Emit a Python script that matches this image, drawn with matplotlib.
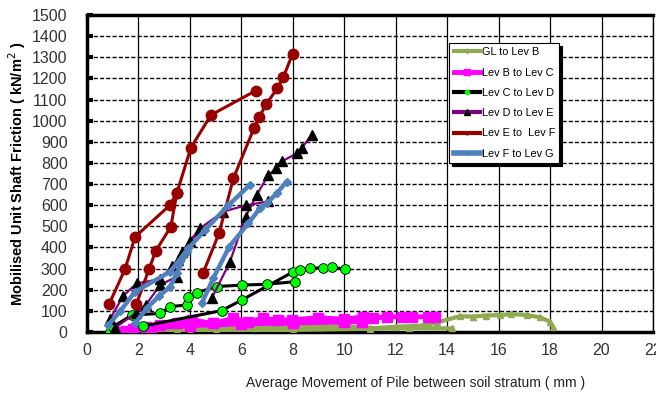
import matplotlib.pyplot as plt
import numpy as np
from matplotlib.lines import Line2D

plt.rcParams['font.family'] = ['Liberation Sans', 'DejaVu Sans']

nan = np.nan
# GL to Lev B (two branches separated by nan)
gl_x = [1.5, 2.5, 3.5, 5.0, 6.5, 8.0, 9.0, 10.0, 11.0, 12.0, 13.0, 13.6, 14.5, 15.0, 15.5, 16.05, 16.5, 17.1, 17.6, 18.0, 18.1,
        nan, 1.5, 4.0, 8.0, 11.0, 12.5, 14.2]
gl_y = [0, 5, 10, 15, 20, 25, 25, 28, 17, 25, 30, 45, 75, 73, 78, 80, 85, 80, 70, 49, 25,
        nan, 0, 5, 10, 15, 20, 17]
# Lev B to Lev C
bc_x = [1.2, 1.8, 2.3, 2.84, 3.48, 4.07, 4.91, 5.69, 6.27, 6.85, 7.44, 7.95, 8.99, 10.0, 10.74, 11.13, 11.65, 12.23, 12.62, 13.27, 13.53,
        nan, 1.5, 2.5, 4.0, 6.0, 8.0, 10.0, 10.7]
bc_y = [0, 15, 25, 35, 41, 57, 41, 65, 49, 65, 57, 57, 68, 60, 72, 65, 72, 72, 72, 72, 72,
        nan, 5, 20, 30, 38, 43, 47, 49]
# Lev C to Lev D
cd_x = [0.9, 1.02, 1.74, 2.84, 3.23, 3.87, 3.91, 4.26, 5.04, 6.01, 6.98, 8.08,
        nan, 2.19, 5.23, 6.01, 8.02, 8.28, 8.67, 9.18, 9.51, 10.03]
cd_y = [0, 25, 80, 88, 120, 128, 164, 186, 215, 222, 226, 238,
        nan, 28, 101, 151, 285, 293, 301, 304, 306, 298]
# Lev D to Lev E
de_x = [0.89, 1.4, 1.93, 2.84, 3.3, 3.55, 4.0, 4.39, 5.3, 6.2, 7.05,
        nan, 1.1, 1.9, 2.3, 2.84, 3.48, 3.68, 4.39,
        nan, 4.85, 5.55, 6.17, 6.6, 7.05, 7.35, 7.57, 8.15, 8.34, 8.73]
de_y = [60, 170, 230, 250, 310, 341, 430, 490, 570, 600, 618,
        nan, 20, 90, 130, 222, 262, 380, 482,
        nan, 160, 330, 546, 650, 742, 774, 807, 845, 869, 932]
# Lev E to Lev F
ef_x = [0.86, 1.48, 1.87, 3.23, 3.49, 4.04, 4.82, 6.56,
        nan, 1.92, 2.41, 2.67, 3.26, 3.49,
        nan, 4.52, 5.14, 5.69, 6.5, 6.7, 6.96, 7.4, 7.63, 7.99]
ef_y = [132, 298, 450, 601, 657, 872, 1027, 1142,
        nan, 132, 297, 383, 498, 657,
        nan, 281, 470, 727, 967, 1016, 1078, 1153, 1205, 1316]
# Lev F to Lev G
fg_x = [0.83, 1.3, 1.87, 3.23, 3.94, 4.59, 5.5, 6.33,
        nan, 1.87, 2.32, 2.8, 3.23, 3.5, 3.9,
        nan, 4.46, 4.91, 5.53, 6.27, 6.72, 7.0, 7.37, 7.76]
fg_y = [33, 100, 191, 285, 396, 483, 600, 696,
        nan, 41, 112, 170, 214, 280, 380,
        nan, 136, 254, 404, 514, 585, 610, 656, 711]

labels = ['GL to Lev B', 'Lev B to Lev C', 'Lev C to Lev D',
          'Lev D to Lev E', 'Lev E to  Lev F', 'Lev F to Lev G']

fig = plt.figure(figsize=(6.56, 3.96), dpi=100)
ax = fig.add_axes([0.1326, 0.1616, 0.8628, 0.8005])

olive = '#8FAA50'
ax.plot(gl_x, gl_y, color=olive, lw=3, marker='^', ms=5, mfc=olive, mec=olive, zorder=3)
ax.plot(bc_x, bc_y, color='#FF00FF', lw=3.5, marker='s', ms=6.5, mfc='#FF00FF', mec='#FF00FF', zorder=4)
ax.plot(cd_x, cd_y, color='black', lw=2.2, marker='o', ms=7, mfc='#00FF00', mec='black', mew=0.6, zorder=5)
ax.plot(de_x, de_y, color='#800080', lw=1.6, marker='^', ms=7, mfc='black', mec='black', zorder=6)
ax.plot(ef_x, ef_y, color='#990000', lw=2.2, marker='o', ms=7.5, mfc='#990000', mec='#990000', zorder=7)
ax.plot(fg_x, fg_y, color='#4F81BD', lw=3.2, marker='D', ms=4, mfc='#4F81BD', mec='#4F81BD', zorder=8)

ax.set_xlim(0, 22)
ax.set_ylim(0, 1500)
ax.set_xticks(np.arange(0, 23, 2))
ax.set_yticks(np.arange(0, 1501, 100))
ax.grid(axis='x', color='black', lw=0.9)
ax.grid(axis='y', color='black', lw=1.0, linestyle=(0, (3, 1.5)))
ax.set_axisbelow(True)
for s in ['left', 'bottom', 'top']:
    ax.spines[s].set_linewidth(2.5)
ax.spines['right'].set_linewidth(1)
ax.tick_params(axis='y', direction='in', length=4, width=3, labelsize=11.5, pad=14)
ax.tick_params(axis='x', length=0, labelsize=11.5, pad=8)
for t in ax.get_xticklabels() + ax.get_yticklabels():
    t.set_color('#333333')

ax.set_ylabel('Mobilised Unit Shaft Friction ( kN/m$^2$ )', fontsize=10.5, fontweight='bold')
ax.yaxis.set_label_coords(-0.104, 0.5)
fig.text(0.633, 0.033, 'Average Movement of Pile between soil stratum ( mm )',
         fontsize=10, ha='center', va='center', color='#222222')

handles = [
    Line2D([], [], color=olive, lw=3, marker='|', ms=5, mec=olive),
    Line2D([], [], color='#FF00FF', lw=3.5, marker='s', ms=4, mfc='#FF00FF', mec='#FF00FF'),
    Line2D([], [], color='black', lw=3, marker='o', ms=3, mfc='#00FF00', mec='#00FF00'),
    Line2D([], [], color='#800080', lw=3, marker='^', ms=4, mfc='black', mec='black'),
    Line2D([], [], color='#990000', lw=3, marker='o', ms=2, mfc='#990000', mec='#990000'),
    Line2D([], [], color='#4F81BD', lw=4, marker='D', ms=2, mfc='#4F81BD', mec='#4F81BD'),
]
leg = ax.legend(handles, labels, loc='upper left', bbox_to_anchor=(0.64, 0.912),
                borderaxespad=0, fontsize=7.8, handlelength=2.4, handletextpad=0.2,
                labelspacing=0.95, fancybox=False, framealpha=1, edgecolor='black',
                shadow={'color': 'black', 'alpha': 1})
leg.get_frame().set_linewidth(0.8)
leg.set_zorder(10)

fig.savefig('out.png', dpi=100)
